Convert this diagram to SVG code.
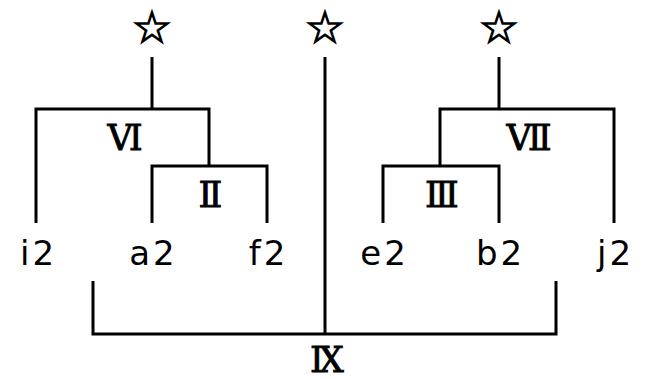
<svg xmlns="http://www.w3.org/2000/svg" width="653" height="379" viewBox="0 0 653 379">
<style>
.ln{stroke:#000;stroke-width:3;fill:none;stroke-linecap:butt}
.lf{font-family:"DejaVu Sans","Liberation Sans",sans-serif;font-size:34px;letter-spacing:3px;text-anchor:middle;fill:#000}
.rn{font-family:"DejaVu Serif","Liberation Serif","Noto Sans CJK JP",serif;font-size:35px;text-anchor:middle;fill:#000;stroke:#000;stroke-width:0.9}
.st{font-family:"DejaVu Sans","Noto Sans CJK JP",sans-serif;font-size:45px;text-anchor:middle;fill:#000;stroke:#000;stroke-width:1.2}
</style>
<rect width="653" height="379" fill="#fff"/>
<g id="connectors">
<path class="ln" d="M152 57V109M36 223V109H209V166M152 223V166H267V223"/>
<path class="ln" d="M499 57V109M614 223V109H440V166M383 223V166H499V223"/>
<path class="ln" d="M325 57V334M93 281V334H556V281"/>
</g>
<g id="star1"><text class="st" x="152" y="43">☆</text></g>
<g id="star2"><text class="st" x="325" y="43">☆</text></g>
<g id="star3"><text class="st" x="499" y="43">☆</text></g>
<g id="VI"><text class="rn" x="125" y="150">Ⅵ</text></g>
<g id="II"><text class="rn" x="210.5" y="207">Ⅱ</text></g>
<g id="VII"><text class="rn" x="529" y="150">Ⅶ</text></g>
<g id="III"><text class="rn" x="442" y="207">Ⅲ</text></g>
<g id="IX"><text class="rn" x="327" y="372">Ⅸ</text></g>
<g id="i2"><text class="lf" x="38.5" y="265">i2</text></g>
<g id="a2"><text class="lf" x="153.5" y="265">a2</text></g>
<g id="f2"><text class="lf" x="268.5" y="265">f2</text></g>
<g id="e2"><text class="lf" x="384.5" y="265">e2</text></g>
<g id="b2"><text class="lf" x="500.5" y="265">b2</text></g>
<g id="j2"><text class="lf" x="615.5" y="265">j2</text></g>
</svg>
